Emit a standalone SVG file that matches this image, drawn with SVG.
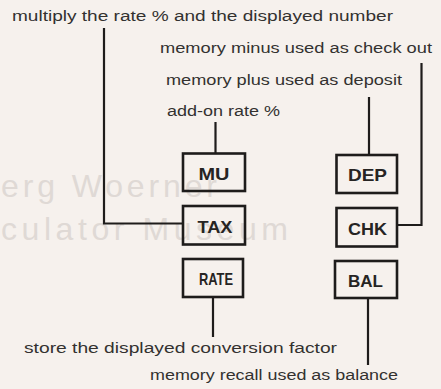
<svg xmlns="http://www.w3.org/2000/svg" width="441" height="389" viewBox="0 0 441 389">
<style>
.bg{fill:#f6f1ed}
.wm{font-family:"Liberation Sans",Arial,sans-serif;font-size:32px;fill:#dfd9d5}
.lbl{font-family:"Liberation Sans",Arial,sans-serif;font-size:14px;fill:#333130}
.key rect{fill:none;stroke:#1e1c1b;stroke-width:2.6}
.key text{font-family:"Liberation Sans",Arial,sans-serif;font-weight:bold;font-size:17px;fill:#262423;text-anchor:middle}
.conn path{fill:none;stroke:#1e1c1b;stroke-width:2.2}
</style>
<rect class="bg" x="0" y="0" width="441" height="389"/>
<text class="wm" x="1" y="197" textLength="216" lengthAdjust="spacing">erg Woerner</text>
<text class="wm" x="1" y="240" textLength="287" lengthAdjust="spacing">culator Museum</text>

<g id="labels">
<text class="lbl" x="12" y="21" textLength="381" lengthAdjust="spacingAndGlyphs">multiply the rate %  and the displayed number</text>
<text class="lbl" x="160" y="53" textLength="272" lengthAdjust="spacingAndGlyphs">memory minus used as check out</text>
<text class="lbl" x="166" y="85" textLength="236" lengthAdjust="spacingAndGlyphs">memory plus used as deposit</text>
<text class="lbl" x="167" y="116" textLength="113" lengthAdjust="spacingAndGlyphs">add-on rate %</text>
<text class="lbl" x="24" y="353" textLength="313" lengthAdjust="spacingAndGlyphs">store the  displayed  conversion  factor</text>
<text class="lbl" x="150" y="380" textLength="248" lengthAdjust="spacingAndGlyphs">memory recall used as balance</text>
</g>

<g id="connectors" class="conn">
<path d="M104,28 V223.5 H183"/>
<path d="M215.5,122 V153"/>
<path d="M369,97 V155"/>
<path d="M421.5,63 V225 H397"/>
<path d="M213,297 V337"/>
<path d="M368,298 V365"/>
</g>

<g id="key-mu" class="key"><rect x="183" y="153.5" width="62" height="37.5"/><text x="214" y="179.5" textLength="31" lengthAdjust="spacingAndGlyphs">MU</text></g>
<g id="key-tax" class="key"><rect x="183" y="206" width="62" height="38.5"/><text x="215" y="232.5" textLength="35" lengthAdjust="spacingAndGlyphs">TAX</text></g>
<g id="key-rate" class="key"><rect x="183" y="259" width="60" height="38"/><text x="216" y="285" textLength="34" lengthAdjust="spacingAndGlyphs">RATE</text></g>
<g id="key-dep" class="key"><rect x="336.5" y="155" width="60.5" height="38"/><text x="367.5" y="181" textLength="39" lengthAdjust="spacingAndGlyphs">DEP</text></g>
<g id="key-chk" class="key"><rect x="336.5" y="208" width="60.5" height="38.5"/><text x="367.5" y="234.5" textLength="39" lengthAdjust="spacingAndGlyphs">CHK</text></g>
<g id="key-bal" class="key"><rect x="335" y="261" width="62" height="37"/><text x="365.5" y="286.5" textLength="35" lengthAdjust="spacingAndGlyphs">BAL</text></g>
</svg>
